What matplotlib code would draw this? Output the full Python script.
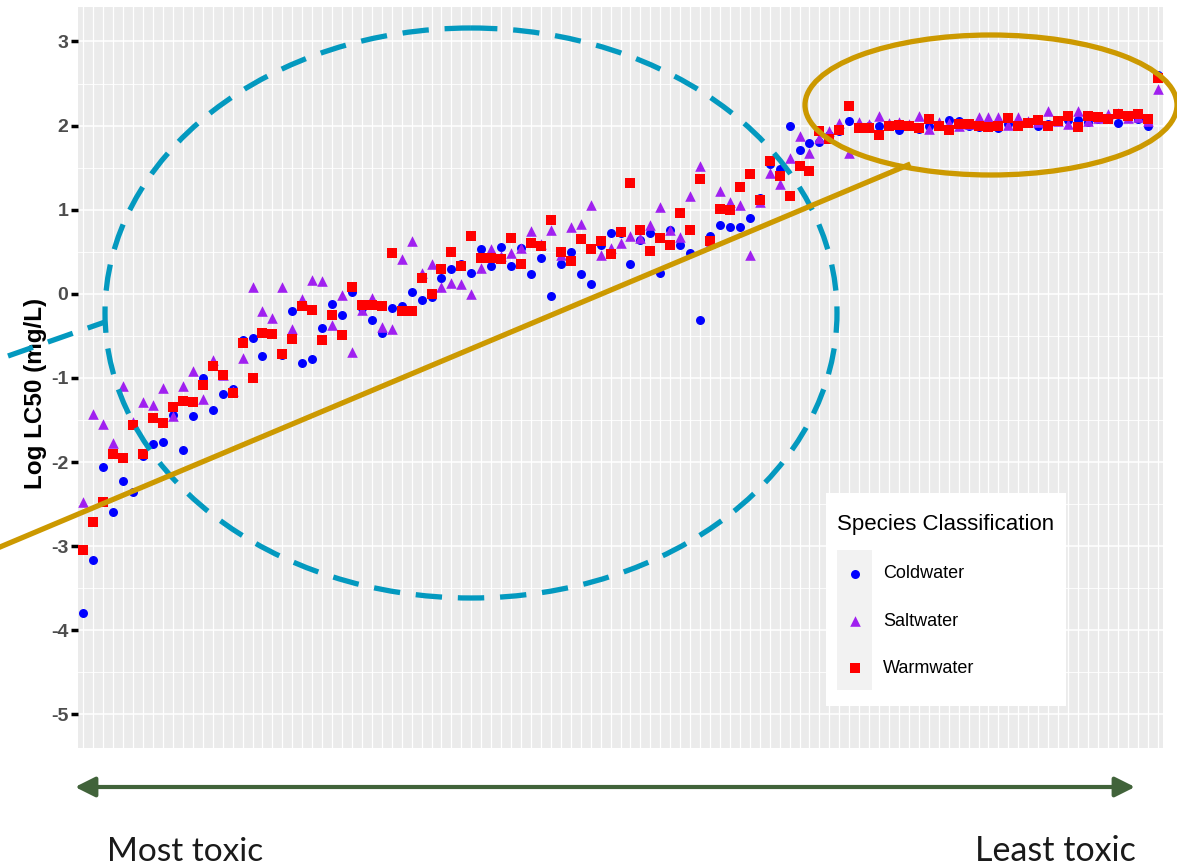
import numpy as np
import matplotlib.pyplot as plt
from matplotlib.patches import Ellipse, Rectangle
from matplotlib.ticker import MultipleLocator

# log LC50 per chemical, one value per species group, ordered from most to least toxic
coldwater = [-3.80, -3.16, -2.06, -2.59, -2.23, -2.36, -1.93, -1.78, -1.76, -1.44,
             -1.86, -1.45, -1.00, -1.38, -1.19, -1.13, -0.55, -0.52, -0.74, -0.48,
             -0.73, -0.20, -0.82, -0.77, -0.41, -0.12, -0.25, 0.02, -0.17, -0.31,
             -0.47, -0.17, -0.14, 0.02, -0.07, -0.04, 0.19, 0.29, 0.36, 0.25,
             0.53, 0.33, 0.56, 0.33, 0.55, 0.23, 0.42, -0.03, 0.36, 0.50,
             0.23, 0.12, 0.58, 0.72, 0.72, 0.35, 0.64, 0.72, 0.25, 0.76,
             0.58, 0.49, -0.31, 0.69, 0.82, 0.80, 0.79, 0.90, 1.14, 1.54,
             1.48, 2.00, 1.71, 1.79, 1.81, 1.89, 1.93, 2.06, 2.00, 2.00,
             2.00, 2.00, 1.95, 2.00, 1.96, 2.00, 2.00, 2.07, 2.05, 2.00,
             1.98, 2.00, 1.97, 2.02, 2.02, 2.03, 1.99, 2.02, 2.06, 2.07,
             2.07, 2.04, 2.08, 2.09, 2.03, 2.10, 2.08, 1.99, 2.60]
saltwater = [-2.47, -1.43, -1.55, -1.77, -1.10, -1.53, -1.29, -1.32, -1.12, -1.45,
             -1.10, -0.92, -1.25, -0.79, -0.96, -1.15, -0.76, 0.08, -0.21, -0.29,
             0.08, -0.42, -0.06, 0.17, 0.15, -0.37, -0.01, -0.69, -0.19, -0.05,
             -0.39, -0.42, 0.41, 0.63, 0.25, 0.35, 0.08, 0.13, 0.12, 0.00,
             0.31, 0.53, 0.45, 0.49, 0.55, 0.75, 0.59, 0.76, 0.46, 0.79,
             0.83, 1.06, 0.46, 0.55, 0.60, 0.69, 0.66, 0.82, 1.03, 0.76,
             0.67, 1.16, 1.52, 0.61, 1.22, 1.09, 1.06, 0.46, 1.09, 1.44,
             1.31, 1.62, 1.88, 1.68, 1.85, 1.94, 2.03, 1.68, 2.04, 2.02,
             2.12, 2.03, 2.04, 2.02, 2.11, 1.96, 2.04, 2.03, 2.00, 2.02,
             2.10, 2.10, 2.10, 2.01, 2.10, 2.05, 2.04, 2.17, 2.05, 2.02,
             2.17, 2.05, 2.09, 2.14, 2.15, 2.09, 2.10, 2.06, 2.43]
warmwater = [-3.05, -2.71, -2.47, -1.90, -1.95, -1.56, -1.91, -1.48, -1.54, -1.35,
             -1.28, -1.29, -1.08, -0.86, -0.96, -1.18, -0.58, -1.00, -0.47, -0.48,
             -0.71, -0.54, -0.15, -0.19, -0.55, -0.25, -0.49, 0.08, -0.13, -0.13,
             -0.15, 0.49, -0.21, -0.21, 0.19, 0.00, 0.29, 0.50, 0.33, 0.69,
             0.43, 0.43, 0.41, 0.66, 0.35, 0.61, 0.57, 0.88, 0.50, 0.39,
             0.65, 0.53, 0.63, 0.47, 0.74, 1.32, 0.76, 0.51, 0.66, 0.58,
             0.96, 0.76, 1.37, 0.63, 1.01, 1.00, 1.27, 1.42, 1.12, 1.58,
             1.40, 1.16, 1.52, 1.46, 1.94, 1.84, 1.95, 2.23, 1.97, 1.97,
             1.89, 2.00, 2.01, 2.00, 1.97, 2.08, 2.00, 1.95, 2.02, 2.02,
             2.00, 1.98, 2.00, 2.09, 2.00, 2.03, 2.07, 2.00, 2.05, 2.11,
             1.98, 2.12, 2.10, 2.08, 2.14, 2.11, 2.14, 2.08, 2.56]
species = ["Coldwater", "Saltwater", "Warmwater"]
y_ticks = [-5, -4, -3, -2, -1, 0, 1, 2, 3]

W, H = 1177, 865
sans = ["Liberation Sans Narrow", "Liberation Sans", "DejaVu Sans"]
plt.rcParams["axes.unicode_minus"] = False

fig = plt.figure(figsize=(W / 100, H / 100), dpi=100)
ax = fig.add_axes([78 / W, 1 - 748 / H, (1163 - 78) / W, (748 - 7) / H])
ax.set_facecolor("#EBEBEB")
for s in ax.spines.values():
    s.set_visible(False)

x = np.arange(len(coldwater))
ax.scatter(x, coldwater, marker="o", s=42, color="#0000FF", linewidths=0, zorder=3, label=species[0])
ax.scatter(x, saltwater, marker="^", s=58, color="#A020F0", linewidths=0, zorder=3, label=species[1])
ax.scatter(x, warmwater, marker="s", s=42, color="#FF0000", linewidths=0, zorder=3, label=species[2])

ax.set_xlim(-0.55, len(x) - 0.45)
ax.set_ylim(-5.40, 3.41)
ax.set_xticks(x)
ax.set_xticklabels([])
ax.tick_params(axis="x", length=0)
ax.set_yticks(y_ticks)
ax.yaxis.set_minor_locator(MultipleLocator(0.5))
ax.tick_params(axis="y", which="major", length=5, width=2.5, color="black",
               labelsize=14, labelcolor="#4D4D4D", pad=2)
ax.tick_params(axis="y", which="minor", length=0)
for lab in ax.get_yticklabels():
    lab.set_fontweight("bold")
    lab.set_family(sans)

ax.set_axisbelow(True)
ax.grid(axis="x", which="major", color="white", lw=0.9)
ax.grid(axis="y", which="major", color="white", lw=1.1)
ax.grid(axis="y", which="minor", color="white", lw=0.6)

ax.set_ylabel("Log LC50 (mg/L)", fontsize=17.5, fontweight="bold", family=["Liberation Sans", "DejaVu Sans"])
ax.yaxis.set_label_coords(-0.029, 0.479)

# legend box
ax.add_patch(Rectangle((826 / W, 1 - 706 / H), 240 / W, 213 / H, transform=fig.transFigure,
                       fc="white", ec="none", zorder=4, clip_on=False))
ax.add_patch(Rectangle((837 / W, 1 - 690 / H), 35 / W, 140 / H, transform=fig.transFigure,
                       fc="#F2F2F2", ec="none", zorder=4.5, clip_on=False))
leg = ax.legend(title="Species Classification", loc="upper left",
                bbox_to_anchor=(837 / W, 1 - 514 / H), bbox_transform=fig.transFigure,
                frameon=False, prop=dict(family=sans, size=13),
                title_fontproperties=dict(family=sans, size=16),
                labelspacing=1.68, handletextpad=0.55, borderpad=0, borderaxespad=0,
                alignment="left", markerscale=1.0, handlelength=2.0)
leg.set_zorder(5)

# annotation overlay in pixel coordinates
ov = fig.add_axes([0, 0, 1, 1], zorder=10)
ov.set_xlim(0, W)
ov.set_ylim(H, 0)
ov.axis("off")
ov.patch.set_alpha(0)

blue = "#0399BF"
gold = "#CC9900"
ov.add_patch(Ellipse((471, 313), 2 * 366, 2 * 285, fill=False, ec=blue, lw=3.8,
                     ls=(0, (5.0, 3.0))))
ov.plot([8, 105], [356, 322], color=blue, lw=3.8, ls=(0, (5.0, 3.0)))
ov.add_patch(Ellipse((991, 105), 372, 140, fill=False, ec=gold, lw=3.8))
ov.plot([0, 908], [547, 165], color=gold, lw=3.8)
ov.annotate("", xy=(75, 787), xytext=(1135, 787),
            arrowprops=dict(arrowstyle="<|-|>", color="#41633A", lw=3.0,
                            mutation_scale=30, shrinkA=0, shrinkB=0))
ov.text(107, 861, "Most toxic", fontsize=24, family=["Lato", "DejaVu Sans"], color="#1A1A1A")
ov.text(975, 861, "Least toxic", fontsize=24.5, family=["Lato", "DejaVu Sans"], color="#1A1A1A")

fig.savefig("out.png", dpi=100)
